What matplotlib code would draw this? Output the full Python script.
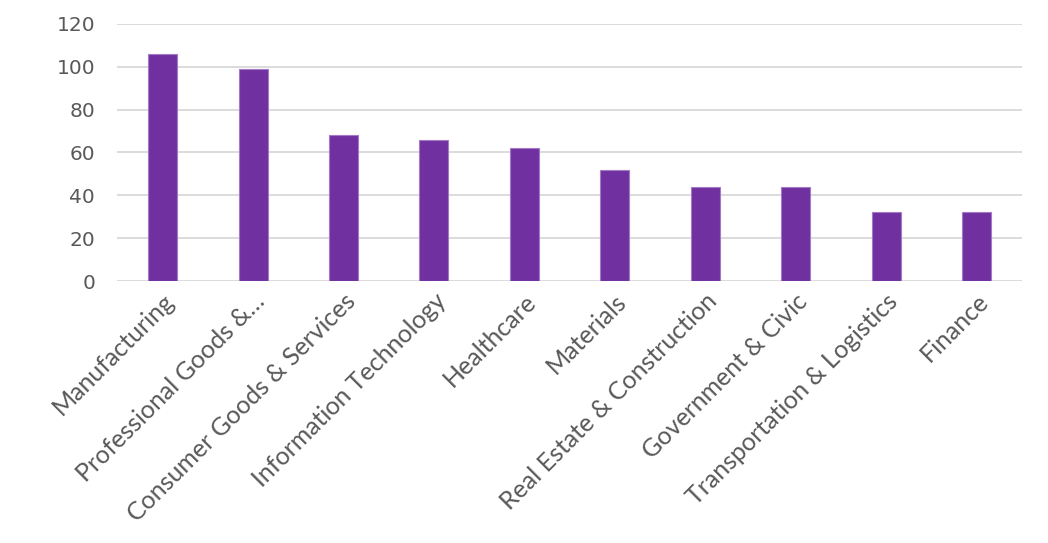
import matplotlib
matplotlib.use("Agg")
from matplotlib import pyplot as plt
import numpy as np

categories = ["Manufacturing", "Professional Goods &\u2026", "Consumer Goods & Services",
              "Information Technology", "Healthcare", "Materials",
              "Real Estate & Construction", "Government & Civic",
              "Transportation & Logistics", "Finance"]
values = [106, 99, 68, 66, 62, 52, 44, 44, 32, 32]
yticks = [0, 20, 40, 60, 80, 100, 120]

fig = plt.figure(figsize=(10.48, 5.43), dpi=100)
ax = fig.add_axes([0.112, 0.4825, 0.863, 0.4735])

x = np.arange(len(categories))
ax.bar(x, values, width=0.32, color="#7030A0", edgecolor="#A37BC5", linewidth=0.8, zorder=3)

ax.set_xlim(-0.5, len(categories) - 0.5)
ax.set_ylim(0, 120)
ax.set_yticks(yticks)
ax.yaxis.grid(True, color="#D9D9D9", linewidth=1.3, zorder=0)
for s in ax.spines.values():
    s.set_visible(False)
ax.tick_params(axis="both", length=0)
ax.tick_params(axis="y", labelsize=14.5, labelcolor="#595959", pad=16)

ax.set_xticks(x)
ax.set_xticklabels(categories, rotation=45, ha="right", va="top", rotation_mode="anchor",
                   fontsize=18, color="#595959", family="Lato")
ax.tick_params(axis="x", pad=6)

plt.savefig("out.png", dpi=100)
plt.close()
